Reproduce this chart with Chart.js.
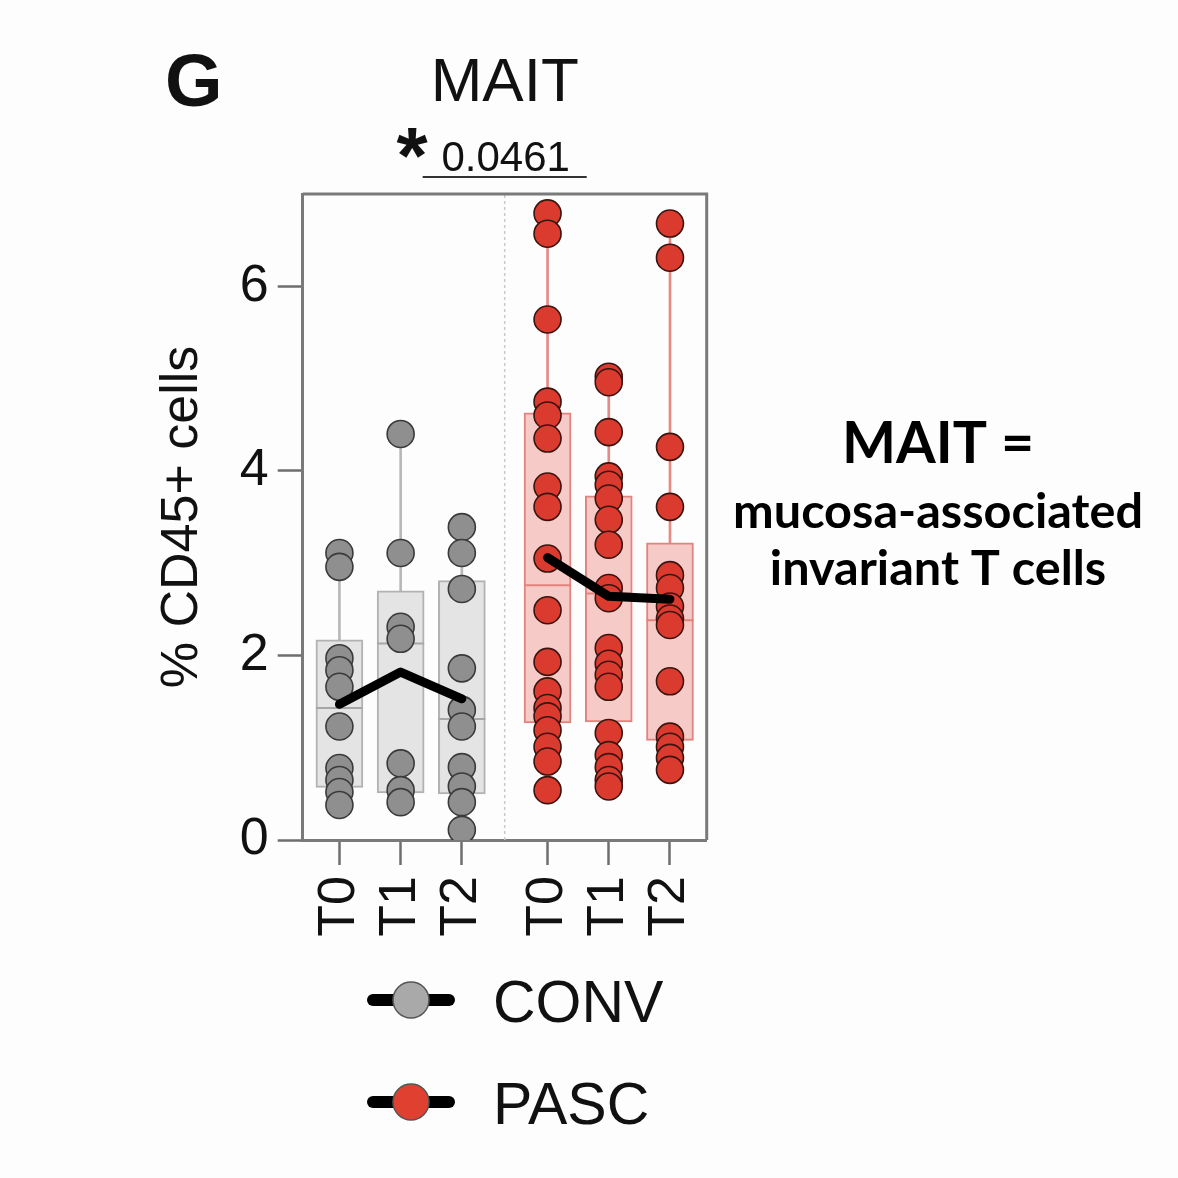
<!DOCTYPE html>
<html>
<head>
<meta charset="utf-8">
<script src="https://cdn.jsdelivr.net/npm/chart.js@4.4.1/dist/chart.umd.min.js"></script>
<style>
  html, body { margin: 0; padding: 0; background: #fdfdfd; }
  #wrap { width: 1178px; height: 1178px; position: relative; }
  canvas { display: block; }
</style>
</head>
<body>
<div id="wrap"><canvas id="c" width="1178" height="1178" style="width:1178px;height:1178px"></canvas></div>
<script>
// ---------------- DATA ----------------
const categories = ['T0', 'T1', 'T2'];
const groups = ['CONV', 'PASC'];
const yTicks = [0, 2, 4, 6];

// individual points, % CD45+ cells
const conv_T0 = [3.11, 2.96, 1.97, 1.84, 1.66, 1.23, 0.78, 0.65, 0.52, 0.38];
const conv_T1 = [4.40, 3.11, 2.31, 2.18, 0.83, 0.54, 0.41];
const conv_T2 = [3.39, 3.11, 2.72, 1.86, 1.41, 1.23, 0.79, 0.58, 0.41, 0.11];
const pasc_T0 = [6.79, 6.57, 5.64, 4.75, 4.60, 4.35, 3.83, 3.61, 3.05, 2.49, 1.93, 1.61, 1.43, 1.34, 1.19, 1.01, 0.85, 0.54];
const pasc_T1 = [5.02, 4.96, 4.42, 3.94, 3.85, 3.70, 3.47, 3.20, 2.73, 2.62, 2.08, 1.91, 1.79, 1.66, 1.16, 0.92, 0.79, 0.65, 0.58];
const pasc_T2 = [6.68, 6.31, 4.26, 3.61, 2.87, 2.73, 2.53, 2.40, 2.33, 1.72, 1.12, 1.01, 0.89, 0.76];

// box statistics per time point (T0, T1, T2)
const convMin    = [0.38, 0.41, 0.11];
const convQ1     = [0.57, 0.51, 0.50];
const convMedian = [1.43, 2.13, 1.31];
const convQ3     = [2.17, 2.70, 2.81];
const convMax    = [3.11, 4.40, 3.39];
const convMean   = [1.47, 1.82, 1.53];

const pascMin    = [0.54, 0.58, 0.76];
const pascQ1     = [1.27, 1.28, 1.08];
const pascMedian = [2.76, 2.67, 2.38];
const pascQ3     = [4.63, 3.73, 3.22];
const pascMax    = [6.79, 5.02, 6.68];
const pascMean   = [3.06, 2.64, 2.61];

const pValueText = '0.0461';
const titleText = 'MAIT';
const yTitle = '% CD45+ cells';
const noteLines = ['MAIT =', 'mucosa-associated', 'invariant T cells'];

// ---------------- LAYOUT / STYLE ----------------
const FONT = "'Liberation Sans', Arial, Helvetica, sans-serif";
const GROUP_GAP = 3.4;                      // x offset of the second group
const xOf = (g, i) => g * GROUP_GAP + i;
const tickPositions = [];
const tickLabels = [];
groups.forEach((g, gi) => categories.forEach((c, ci) => { tickPositions.push(xOf(gi, ci)); tickLabels.push(c); }));

const STY = {
  conv: { pt: '#8f8f8f', ptBorder: '#3a3a3a', box: '#e4e4e4', boxBorder: '#b2b2b2', whisk: '#b8b8b8', med: '#a6a6a6', legend: '#a9a9a9' },
  pasc: { pt: '#db3a2e', ptBorder: '#3a1410', box: '#f6cac7', boxBorder: '#e3837d', whisk: '#e58a84', med: '#e3837d', legend: '#e0402f' }
};

const rangeData = (g, lo, hi) => categories.map((c, i) => ({ x: xOf(g, i), y: [lo[i], hi[i]] }));
const valData = (g, vals) => categories.map((c, i) => ({ x: xOf(g, i), y: vals[i] }));
const pointData = (g, lists) => { const out = []; lists.forEach((arr, i) => arr.forEach(v => out.push({ x: xOf(g, i), y: v }))); return out; };

function groupDatasets(g, s, mins, q1, med, q3, maxs, means, lists, name) {
  return [
    { type: 'bar', label: name + ' whisker', data: rangeData(g, mins, maxs), barThickness: 2, grouped: false,
      backgroundColor: s.whisk, borderWidth: 0, order: 5 },
    { type: 'bar', label: name + ' box', data: rangeData(g, q1, q3), barThickness: 47, grouped: false,
      backgroundColor: s.box, borderColor: s.boxBorder, borderWidth: 2, borderSkipped: false, order: 4 },
    { type: 'scatter', label: name + ' median', data: valData(g, med), pointStyle: 'line', pointRadius: 23.5,
      borderColor: s.med, borderWidth: 2, showLine: false, order: 3 },
    { type: 'scatter', label: name, data: pointData(g, lists), pointRadius: 13.5, pointHoverRadius: 13.5,
      backgroundColor: s.pt, borderColor: s.ptBorder, borderWidth: 1.6, order: 2 },
    { type: 'line', label: name + ' mean', data: valData(g, means), borderColor: '#000', borderWidth: 9,
      pointRadius: 0, borderCapStyle: 'round', borderJoinStyle: 'round', tension: 0, order: 1 }
  ];
}

const datasets = [
  { type: 'line', label: 'divider', data: [{ x: (2 + GROUP_GAP) / 2, y: 0 }, { x: (2 + GROUP_GAP) / 2, y: 7 }],
    borderColor: '#c9c9c9', borderWidth: 1.5, borderDash: [3, 3], pointRadius: 0, order: 6 },
  ...groupDatasets(0, STY.conv, convMin, convQ1, convMedian, convQ3, convMax, convMean, [conv_T0, conv_T1, conv_T2], 'CONV'),
  ...groupDatasets(1, STY.pasc, pascMin, pascQ1, pascMedian, pascQ3, pascMax, pascMean, [pasc_T0, pasc_T1, pasc_T2], 'PASC')
];

const decor = {
  id: 'decor',
  afterDraw(chart) {
    const ctx = chart.ctx;
    const ca = chart.chartArea;
    const xs = chart.scales.x;
    ctx.save();
    // frame (top + right)
    ctx.strokeStyle = '#7a7a7a';
    ctx.lineWidth = 3;
    ctx.beginPath();
    ctx.moveTo(ca.left, ca.top);
    ctx.lineTo(ca.right, ca.top);
    ctx.lineTo(ca.right, ca.bottom);
    ctx.stroke();

    const cx = (ca.left + ca.right) / 2;
    ctx.fillStyle = '#111';
    // panel letter
    ctx.font = 'bold 74px ' + FONT;
    ctx.textAlign = 'left';
    ctx.textBaseline = 'alphabetic';
    ctx.fillText('G', 165, 106);
    // title
    ctx.font = '62px ' + FONT;
    ctx.textAlign = 'center';
    ctx.fillText(titleText, cx, 101);
    // p-value
    ctx.font = '42px ' + FONT;
    ctx.fillText(pValueText, cx + 1, 171);
    ctx.font = 'bold 80px ' + FONT;
    ctx.fillText('*', 412, 183);
    // bracket
    ctx.strokeStyle = '#333';
    ctx.lineWidth = 2;
    ctx.beginPath();
    ctx.moveTo(xs.getPixelForValue(1.36), 177);
    ctx.lineTo(xs.getPixelForValue(4.04), 177);
    ctx.stroke();

    // legend
    const legendItems = [{ name: groups[0], color: STY.conv.legend, y: 1000 }, { name: groups[1], color: STY.pasc.legend, y: 1102 }];
    legendItems.forEach(it => {
      ctx.strokeStyle = '#000';
      ctx.lineWidth = 12;
      ctx.lineCap = 'round';
      ctx.beginPath();
      ctx.moveTo(373, it.y);
      ctx.lineTo(449, it.y);
      ctx.stroke();
      ctx.beginPath();
      ctx.arc(411, it.y, 18, 0, Math.PI * 2);
      ctx.fillStyle = it.color;
      ctx.fill();
      ctx.lineWidth = 1.5;
      ctx.strokeStyle = '#555';
      ctx.stroke();
      ctx.fillStyle = '#111';
      ctx.font = '59px ' + FONT;
      ctx.textAlign = 'left';
      ctx.textBaseline = 'alphabetic';
      ctx.fillText(it.name, 493, it.y + 22);
    });

    // side note (Calibri-like bold)
    const NF = "Lato, 'Open Sans', sans-serif";
    const fit = (txt, target) => { ctx.font = 'bold 40px ' + NF; return 40 * target / ctx.measureText(txt).width; };
    const s1 = fit(noteLines[0], 192);
    const s2 = fit(noteLines[1], 410);
    ctx.fillStyle = '#000';
    ctx.textAlign = 'center';
    ctx.font = 'bold ' + s1.toFixed(1) + 'px ' + NF;
    ctx.fillText(noteLines[0], 938, 463);
    ctx.font = 'bold ' + s2.toFixed(1) + 'px ' + NF;
    ctx.fillText(noteLines[1], 938, 528);
    ctx.fillText(noteLines[2], 938, 585);
    ctx.restore();
  }
};

new Chart(document.getElementById('c'), {
  type: 'scatter',
  data: { datasets },
  options: {
    responsive: false,
    animation: false,
    events: [],
    layout: { padding: { left: 147.3, right: 471.3, top: 194, bottom: 228 } },
    plugins: { legend: { display: false }, tooltip: { enabled: false }, title: { display: false } },
    scales: {
      x: {
        type: 'linear', position: 'bottom', min: -0.6, max: 6.0, offset: false,
        afterBuildTicks: s => { s.ticks = tickPositions.map(v => ({ value: v })); },
        afterFit: s => { s.height = 110; },
        ticks: {
          autoSkip: false, minRotation: 90, maxRotation: 90, padding: 11, color: '#111',
          font: { family: FONT, size: 52 },
          callback: (v, i) => tickLabels[i]
        },
        grid: { offset: false, drawOnChartArea: false, drawTicks: true, tickLength: 25, tickColor: '#6e6e6e', tickWidth: 2.5 },
        border: { display: true, color: '#7a7a7a', width: 3 }
      },
      y: {
        type: 'linear', position: 'left', min: 0, max: 7, offset: false,
        afterBuildTicks: s => { s.ticks = yTicks.map(v => ({ value: v })); },
        afterFit: s => { s.width = 155.4; },
        ticks: { padding: 9, color: '#111', font: { family: FONT, size: 52 } },
        grid: { offset: false, drawOnChartArea: false, drawTicks: true, tickLength: 25, tickColor: '#6e6e6e', tickWidth: 2.5 },
        border: { display: true, color: '#7a7a7a', width: 3 },
        title: { display: true, text: yTitle, color: '#111', font: { family: FONT, size: 52 }, padding: { top: 4, bottom: 4 } }
      }
    }
  },
  plugins: [decor]
});
</script>
</body>
</html>
